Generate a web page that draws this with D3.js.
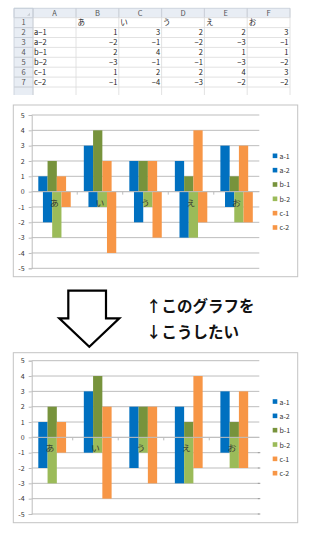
<!DOCTYPE html>
<html><head><meta charset="utf-8">
<script src="https://cdn.jsdelivr.net/npm/d3@7"></script>
<style>html,body{margin:0;padding:0;background:#fff;}svg{display:block;}</style>
</head><body>
<script>
// ---- data ----
const categories = ['あ','い','う','え','お'];
const seriesNames = ['a-1','a-2','b-1','b-2','c-1','c-2'];
const a1 = [1, 3, 2, 2, 3];
const a2 = [-2, -1, -2, -3, -1];
const b1 = [2, 4, 2, 1, 1];
const b2 = [-3, -1, -1, -3, -2];
const c1 = [1, 2, 2, 4, 3];
const c2 = [-1, -4, -3, -2, -2];
const yTicks = [5, 4, 3, 2, 1, 0, -1, -2, -3, -4, -5];
const colLetters = ['A','B','C','D','E','F'];
const rowNumbers = [1, 2, 3, 4, 5, 6, 7];
const captionUp = '↑このグラフを';
const captionDown = '↓こうしたい';

const seriesValues = [a1, a2, b1, b2, c1, c2];
const colors = ['#0070C0','#0070C0','#77933C','#9BBB59','#F79646','#F79646'];

const W = 320, H = 538;
const svg = d3.select('body').append('svg').attr('width', W).attr('height', H);
svg.append('rect').attr('width', W).attr('height', H).attr('fill', '#fff');
const FONT = "'Noto Sans CJK JP', 'Noto Sans', sans-serif";

// ---- spreadsheet ----
(function sheet(){
  const g = svg.append('g');
  const left = 14, colAEnd = 76, numEnd = 33, right = 290;
  const hdrTop = 8.3, hdrBot = 17.7, bottom = 95;
  const colX = d3.scaleBand().domain(categories).range([colAEnd, right]);
  const rowY = d3.scaleBand().domain(rowNumbers).range([hdrBot, 87]);
  const hdrFill = '#e8edf4', hdrLine = '#c5cdd8', grid = '#dadada';
  // header backgrounds
  g.append('rect').attr('x', left).attr('y', hdrTop).attr('width', right-left).attr('height', hdrBot-hdrTop).attr('fill', hdrFill);
  g.append('rect').attr('x', left).attr('y', hdrBot).attr('width', numEnd-left).attr('height', bottom-hdrBot).attr('fill', hdrFill);
  // corner triangle
  g.append('path').attr('d', `M${numEnd-3},${hdrBot-5} L${numEnd-3},${hdrBot-2} L${numEnd-6},${hdrBot-2} Z`).attr('fill','#c8ccd2');
  // grid lines: vertical
  const vx = [left, numEnd, colAEnd].concat(categories.map(c => colX(c) + colX.bandwidth()));
  vx.forEach((x, i) => {
    g.append('line').attr('x1', x).attr('x2', x).attr('y1', hdrTop).attr('y2', bottom)
      .attr('stroke', i < 1 ? hdrLine : grid).attr('stroke-width', 0.8);
    g.append('line').attr('x1', x).attr('x2', x).attr('y1', hdrTop).attr('y2', hdrBot)
      .attr('stroke', hdrLine).attr('stroke-width', 0.8);
  });
  // horizontal
  const hy = [hdrTop, hdrBot].concat(rowNumbers.map(r => rowY(r) + rowY.bandwidth()));
  hy.forEach((y, i) => {
    g.append('line').attr('x1', left).attr('x2', right).attr('y1', y).attr('y2', y)
      .attr('stroke', i === 0 ? hdrLine : grid).attr('stroke-width', 0.8);
    g.append('line').attr('x1', left).attr('x2', numEnd).attr('y1', y).attr('y2', y)
      .attr('stroke', hdrLine).attr('stroke-width', 0.8);
  });
  g.append('line').attr('x1', numEnd).attr('x2', numEnd).attr('y1', hdrTop).attr('y2', bottom).attr('stroke', hdrLine).attr('stroke-width', 0.8);
  // column letters
  const colCenters = [(numEnd + colAEnd)/2].concat(categories.map(c => colX(c) + colX.bandwidth()/2));
  colLetters.forEach((L, i) => {
    g.append('text').attr('x', colCenters[i]).attr('y', (hdrTop+hdrBot)/2 + 2.6)
      .attr('text-anchor','middle').attr('font-family', FONT).attr('font-size', 7.5).attr('fill','#555').text(L);
  });
  // row numbers
  rowNumbers.forEach(r => {
    g.append('text').attr('x', (left+numEnd)/2).attr('y', rowY(r) + rowY.bandwidth()/2 + 2.7)
      .attr('text-anchor','middle').attr('font-family', FONT).attr('font-size', 7.5).attr('fill','#555').text(r);
  });
  // row 1 categories
  categories.forEach(c => {
    g.append('text').attr('x', colX(c) + 1.5).attr('y', rowY(1) + rowY.bandwidth()/2 + 2.7)
      .attr('font-family', FONT).attr('font-size', 7.5).attr('fill','#222').text(c);
  });
  // series rows
  seriesNames.forEach((s, si) => {
    const r = rowNumbers[si + 1];
    const ty = rowY(r) + rowY.bandwidth()/2 + 2.7;
    g.append('text').attr('x', colAEnd - 42).attr('y', ty)
      .attr('font-family', FONT).attr('font-size', 7.5).attr('fill','#222').text(s.replace('-', '−'));
    categories.forEach((c, ci) => {
      const v = seriesValues[si][ci];
      g.append('text').attr('x', colX(c) + colX.bandwidth() - 1.5).attr('y', ty)
        .attr('text-anchor','end').attr('font-family', FONT).attr('font-size', 7.5).attr('fill','#222')
        .text(v < 0 ? '−' + Math.abs(v) : String(v));
    });
  });
})();

// ---- charts ----
function drawChart(frameTop, frameBot, yTop, yBot, mode) {
  const g = svg.append('g');
  g.append('rect').attr('x', 13.3).attr('y', frameTop).attr('width', 297.7-13.3).attr('height', frameBot-frameTop)
    .attr('fill','#fff').attr('stroke','#c4c4c4').attr('stroke-width', 1);
  const plotL = 31.7, plotR = 259.3;
  const y = d3.scaleLinear().domain([-5, 5]).range([yBot, yTop]);
  const x0 = d3.scaleBand().domain(categories).range([plotL, plotR]);
  const bw = x0.bandwidth();
  const w = bw * 0.2035, pad = bw * 0.145;
  // gridlines
  g.selectAll('.grid').data(yTicks).join('line')
    .attr('x1', plotL).attr('x2', plotR).attr('y1', d => y(d)).attr('y2', d => y(d))
    .attr('stroke','#bdbdbd').attr('stroke-width', 1);
  if (mode === 2) {
    g.selectAll('.rt').data(yTicks.filter(d => d < 0)).join('line')
      .attr('x1', plotR - 1.5).attr('x2', plotR + 1).attr('y1', d => y(d)).attr('y2', d => y(d))
      .attr('stroke','#9a9a9a').attr('stroke-width', 1);
  }
  // y axis
  const yAxis = d3.axisLeft(y).tickValues(yTicks).tickSize(3).tickPadding(4).tickFormat(d3.format('d'));
  const ya = g.append('g').attr('transform', `translate(${plotL},0)`).call(yAxis);
  ya.select('.domain').attr('stroke','#bdbdbd');
  ya.selectAll('.tick line').attr('stroke','#bdbdbd');
  ya.selectAll('text').attr('font-family', FONT).attr('font-size', 7).attr('fill','#333').text(d => d < 0 ? '-' + Math.abs(d) : d);
  // bars
  seriesNames.forEach((s, si) => {
    const idx = mode === 1 ? si * 0.5 : Math.floor(si / 2);
    g.selectAll('.b' + si).data(categories).join('rect')
      .attr('x', (c) => x0(c) + pad + idx * w)
      .attr('width', w)
      .attr('y', (c, ci) => y(Math.max(0, seriesValues[si][ci])))
      .attr('height', (c, ci) => Math.abs(y(seriesValues[si][ci]) - y(0)))
      .attr('fill', colors[si]);
  });
  // category axis
  const shift = mode === 1 ? 0 : -4.5;
  const xa = g.append('g').attr('transform', `translate(${shift},${y(0)})`)
    .call(d3.axisBottom(x0).tickSize(0).tickPadding(0));
  xa.select('.domain').remove();
  xa.selectAll('.tick line').remove();
  xa.selectAll('text').attr('dy', null).attr('y', 0).attr('dominant-baseline','central').attr('transform', 'translate(0,10)')
    .attr('font-family', FONT).attr('font-size', 8.5).attr('fill','#333');
  g.append('line').attr('x1', plotL).attr('x2', plotR).attr('y1', y(0)).attr('y2', y(0)).attr('stroke','#bdbdbd').attr('stroke-width', 1);
  g.selectAll('.ct').data(categories.slice(1)).join('line')
    .attr('x1', c => x0(c) + shift).attr('x2', c => x0(c) + shift)
    .attr('y1', y(0)).attr('y2', y(0) + 3).attr('stroke','#bdbdbd');
  // legend
  const lg = d3.scaleBand().domain(seriesNames).range([y(0) - 43, y(0) + 43]);
  seriesNames.forEach((s, si) => {
    const cy = lg(s) + lg.bandwidth()/2;
    g.append('rect').attr('x', 272.7).attr('y', cy - 2.3).attr('width', 4.6).attr('height', 4.6).attr('fill', colors[si]);
    g.append('text').attr('x', 279.5).attr('y', cy).attr('dominant-baseline','central')
      .attr('font-family', FONT).attr('font-size', 7).attr('fill','#333').text(s);
  });
}
drawChart(105, 276.7, 115, 268.3, 1);
drawChart(352.7, 522.7, 360.7, 514, 2);

// ---- arrow + caption ----
svg.append('path')
  .attr('d', 'M68.3,290.7 L106,290.7 L106,318.3 L119.3,318.3 L89.3,346.7 L59.3,318.3 L68.3,318.3 Z')
  .attr('fill','#fff').attr('stroke','#000').attr('stroke-width', 2.2).attr('stroke-linejoin','miter');
svg.append('text').attr('x', 146).attr('y', 305).attr('dominant-baseline','central')
  .attr('font-family', FONT).attr('font-weight', 'bold').attr('font-size', 15.5).attr('fill','#111').text(captionUp);
svg.append('text').attr('x', 146).attr('y', 330.7).attr('dominant-baseline','central')
  .attr('font-family', FONT).attr('font-weight', 'bold').attr('font-size', 15.5).attr('fill','#111').text(captionDown);
</script>
</body></html>
